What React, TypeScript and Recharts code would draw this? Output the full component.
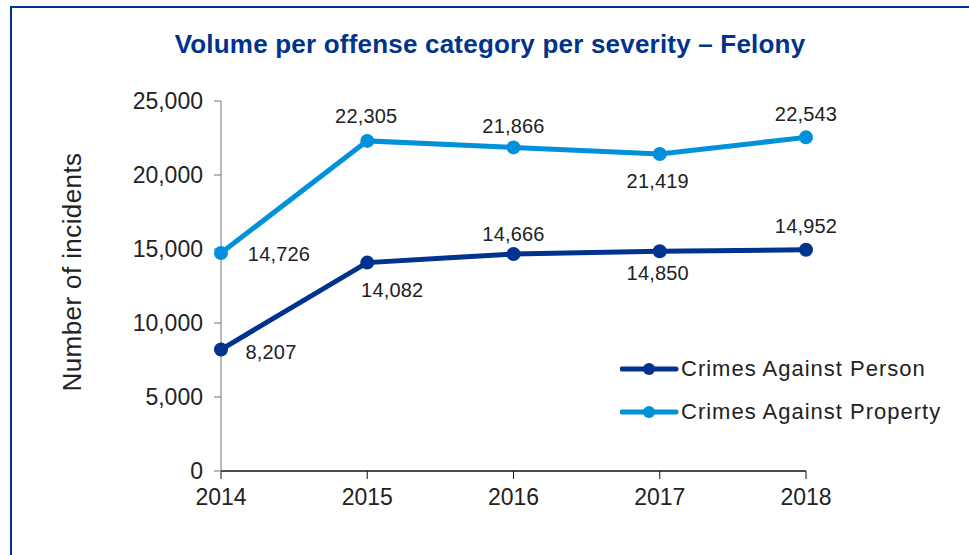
import React from "react";
import { LineChart, Line, XAxis, YAxis, Legend, LabelList } from "recharts";

const years = ["2014", "2015", "2016", "2017", "2018"];
const againstPerson = [8207, 14082, 14666, 14850, 14952];
const againstProperty = [14726, 22305, 21866, 21419, 22543];
const yTicks = [0, 5000, 10000, 15000, 20000, 25000];

const DARK = "#00338D";
const LIGHT = "#0091DA";
const FONT = "'Liberation Sans', Arial, sans-serif";

// label offsets relative to each point [dx, dy]
const PERSON_OFFSETS = [[50, 2], [25, 27], [0, -20], [-2, 22], [0, -24]];
const PROPERTY_OFFSETS = [[58, 1], [-1, -25], [0, -21], [-2, 27], [0, -23]];

const data = years.map((y, i) => ({
  year: y,
  person: againstPerson[i],
  property: againstProperty[i],
}));

const fmt = (v: number) => v.toLocaleString("en-US");

const makeLabel = (offsets: number[][]) => (props: any) => {
  const { x, y, value, index } = props;
  const [dx, dy] = offsets[index] || [0, -20];
  return (
    <text
      x={x + dx}
      y={y + dy}
      textAnchor="middle"
      dominantBaseline="central"
      fill="#222"
      fontSize={20}
      fontFamily={FONT}
      letterSpacing={0.2}
    >
      {fmt(value)}
    </text>
  );
};

const legendItems = [
  { label: "Crimes Against Person", color: DARK },
  { label: "Crimes Against Property", color: LIGHT },
];

const renderLegend = () => (
  <div>
    {legendItems.map((it) => (
      <div key={it.label} style={{ display: "flex", alignItems: "center", height: 43 }}>
        <svg width={60} height={16}>
          <line x1={2} y1={8} x2={56} y2={8} stroke={it.color} strokeWidth={5} strokeLinecap="round" />
          <circle cx={29} cy={8} r={6} fill={it.color} />
        </svg>
        <span style={{ fontFamily: FONT, fontSize: 22, color: "#222", letterSpacing: 1, marginLeft: 1 }}>
          {it.label}
        </span>
      </div>
    ))}
  </div>
);

export default function App() {
  return (
    <div style={{ position: "absolute", left: 0, top: 0, width: 969, height: 555, background: "#fff", overflow: "hidden" }}>
      <div
        style={{
          position: "absolute",
          left: 10,
          top: 6,
          width: 980,
          height: 600,
          borderTop: `2px solid ${DARK}`,
          borderLeft: `2px solid ${DARK}`,
        }}
      />
      <div
        style={{
          position: "absolute",
          left: 0,
          width: 980,
          top: 29,
          textAlign: "center",
          fontFamily: FONT,
          fontWeight: 700,
          fontSize: 26,
          color: DARK,
          letterSpacing: 0.2,
        }}
      >
        Volume per offense category per severity – Felony
      </div>
      <div
        style={{
          position: "absolute",
          left: 72,
          top: 272,
          transform: "translate(-50%, -50%) rotate(-90deg)",
          whiteSpace: "nowrap",
          fontFamily: FONT,
          fontSize: 26,
          letterSpacing: 0.4,
          color: "#222",
        }}
      >
        Number of incidents
      </div>
      <LineChart
        width={969}
        height={555}
        data={data}
        margin={{ top: 101, right: 163, left: 151, bottom: 44 }}
        style={{ position: "absolute", left: 0, top: 0 }}
      >
        <XAxis
          dataKey="year"
          height={40}
          padding={{ left: 0, right: 0 }}
          axisLine={{ stroke: "#111", strokeWidth: 1.5 }}
          tickLine={{ stroke: "#111" }}
          tickSize={8}
          tick={{ fill: "#222", fontSize: 23, fontFamily: FONT, dy: 8 }}
        />
        <YAxis
          width={70}
          domain={[0, 25000]}
          ticks={yTicks}
          tickFormatter={fmt}
          axisLine={{ stroke: "#777" }}
          tickLine={{ stroke: "#777" }}
          tickSize={7}
          tick={{ fill: "#222", fontSize: 23, fontFamily: FONT, dx: -9 }}
        />
        <Legend
          layout="horizontal"
          verticalAlign="middle"
          align="center"
          content={renderLegend}
          wrapperStyle={{ left: 620, top: 347, width: 345 }}
        />
        <Line
          dataKey="person"
          stroke={DARK}
          strokeWidth={5}
          dot={{ r: 7, fill: DARK, stroke: DARK, strokeWidth: 0 }}
          isAnimationActive={false}
        >
          <LabelList dataKey="person" content={makeLabel(PERSON_OFFSETS)} />
        </Line>
        <Line
          dataKey="property"
          stroke={LIGHT}
          strokeWidth={5}
          dot={{ r: 7, fill: LIGHT, stroke: LIGHT, strokeWidth: 0 }}
          isAnimationActive={false}
        >
          <LabelList dataKey="property" content={makeLabel(PROPERTY_OFFSETS)} />
        </Line>
      </LineChart>
    </div>
  );
}
